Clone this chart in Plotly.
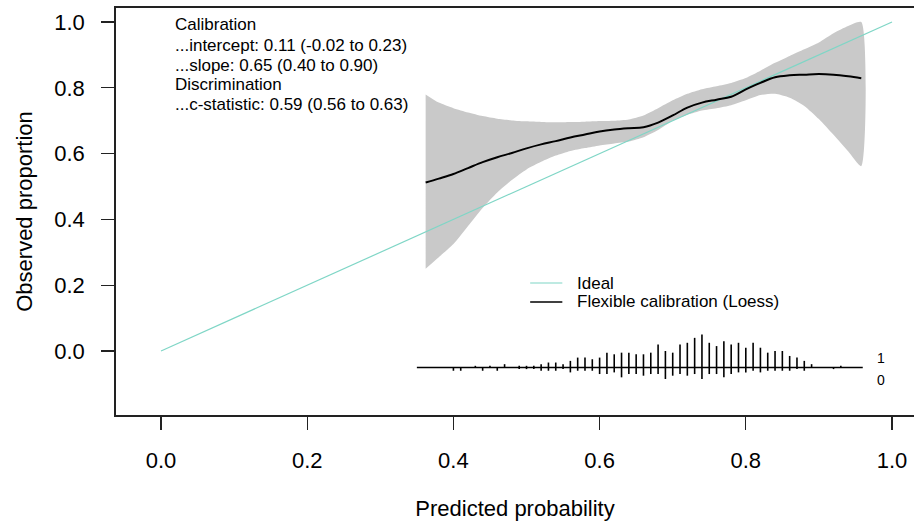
import plotly.graph_objects as go

# ---------------- data ----------------
pred_grid = [0.362, 0.38, 0.40, 0.42, 0.44, 0.46, 0.48, 0.50, 0.52, 0.54, 0.56, 0.58, 0.60,
             0.62, 0.64, 0.66, 0.68, 0.70, 0.72, 0.74, 0.76, 0.78, 0.80, 0.82, 0.84, 0.86,
             0.88, 0.90, 0.92, 0.94, 0.958]
loess_obs = [0.512, 0.524, 0.538, 0.556, 0.574, 0.589, 0.602, 0.616, 0.628, 0.638, 0.649, 0.658, 0.667,
             0.673, 0.677, 0.680, 0.694, 0.716, 0.740, 0.755, 0.764, 0.773, 0.795, 0.815, 0.832, 0.838,
             0.840, 0.842, 0.840, 0.835, 0.829]
ci_upper = [0.780, 0.755, 0.738, 0.725, 0.714, 0.706, 0.701, 0.698, 0.696, 0.695, 0.696, 0.697, 0.699,
            0.700, 0.704, 0.716, 0.738, 0.762, 0.782, 0.796, 0.805, 0.815, 0.830, 0.852, 0.876, 0.897,
            0.917, 0.938, 0.966, 0.988, 1.000]
ci_lower = [0.250, 0.285, 0.325, 0.380, 0.435, 0.482, 0.520, 0.552, 0.575, 0.594, 0.608, 0.617, 0.625,
            0.631, 0.637, 0.650, 0.672, 0.700, 0.718, 0.731, 0.738, 0.747, 0.762, 0.778, 0.782, 0.770,
            0.745, 0.705, 0.657, 0.607, 0.562]

ideal_x = [0.0, 1.0]
ideal_y = [0.0, 1.0]

bin_pos = [0.40, 0.41, 0.42, 0.43, 0.44, 0.45, 0.46, 0.47, 0.48, 0.49, 0.50, 0.51, 0.52, 0.53,
           0.54, 0.55, 0.56, 0.57, 0.58, 0.59, 0.60, 0.61, 0.62, 0.63, 0.64, 0.65, 0.66, 0.67,
           0.68, 0.69, 0.70, 0.71, 0.72, 0.73, 0.74, 0.75, 0.76, 0.77, 0.78, 0.79, 0.80, 0.81,
           0.82, 0.83, 0.84, 0.85, 0.86, 0.87, 0.88, 0.89, 0.90, 0.91, 0.92, 0.93]
n_events = [0, 0, 0, 1, 0, 1, 0, 2, 0, 1, 1, 1, 2, 3,
            3, 2, 4, 6, 6, 5, 6, 9, 8, 9, 9, 8, 8, 9,
            14, 10, 9, 14, 15, 18, 20, 15, 13, 16, 14, 15, 12, 15,
            12, 9, 10, 10, 7, 6, 4, 2, 0, 0, 0, 1]
n_nonevents = [2, 2, 0, 0, 2, 0, 2, 0, 0, 1, 1, 1, 2, 2,
               2, 1, 3, 2, 2, 2, 4, 4, 3, 6, 4, 4, 5, 4,
               4, 7, 5, 4, 5, 4, 7, 4, 4, 6, 4, 3, 3, 2,
               3, 2, 2, 2, 2, 1, 2, 0, 0, 0, 1, 0]
spike_base = -0.05
spike_max = 0.10
baseline_x = [0.35, 0.96]

x_tickvals = [0.0, 0.2, 0.4, 0.6, 0.8, 1.0]
x_ticktext = ["0.0", "0.2", "0.4", "0.6", "0.8", "1.0"]
y_tickvals = [0.0, 0.2, 0.4, 0.6, 0.8, 1.0]
y_ticktext = ["0.0", "0.2", "0.4", "0.6", "0.8", "1.0"]

stats_lines = ["Calibration",
               "...intercept: 0.11 (-0.02 to 0.23)",
               "...slope: 0.65 (0.40 to 0.90)",
               "Discrimination",
               "...c-statistic: 0.59 (0.56 to 0.63)"]
legend_labels = ["Ideal", "Flexible calibration (Loess)"]
spike_labels = ["1", "0"]

# ---------------- style ----------------
FONT = "Liberation Sans, Arial, Helvetica, sans-serif"
IDEAL_COL = "#7fd6c6"
BAND_COL = "#c9c9c9"
AX_COL = "#222222"

fig = go.Figure()

# confidence band
fig.add_trace(go.Scatter(
    x=pred_grid + pred_grid[::-1],
    y=ci_upper + ci_lower[::-1],
    fill="toself", fillcolor=BAND_COL, line=dict(width=0, shape="spline", smoothing=0.6),
    mode="lines", hoverinfo="skip", showlegend=False))

# ideal line
fig.add_trace(go.Scatter(x=ideal_x, y=ideal_y, mode="lines",
                         line=dict(color=IDEAL_COL, width=1.2),
                         name=legend_labels[0], showlegend=False))

# loess curve
fig.add_trace(go.Scatter(x=pred_grid, y=loess_obs, mode="lines",
                         line=dict(color="black", width=2, shape="spline"),
                         name=legend_labels[1], showlegend=False))

# spike histogram
maxf = max(max(n_events), max(n_nonevents))
sx, sy = [baseline_x[0], baseline_x[1], None], [spike_base, spike_base, None]
for b, f1, f0 in zip(bin_pos, n_events, n_nonevents):
    if f1 > 0:
        sx += [b, b, None]
        sy += [spike_base, spike_base + spike_max * f1 / maxf, None]
    if f0 > 0:
        sx += [b, b, None]
        sy += [spike_base, spike_base - spike_max * f0 / maxf, None]
fig.add_trace(go.Scatter(x=sx, y=sy, mode="lines", line=dict(color="black", width=1.6),
                         hoverinfo="skip", showlegend=False))

annotations = []
# statistics text
stat_y = [0.991, 0.930, 0.869, 0.809, 0.748]
for t, yy in zip(stats_lines, stat_y):
    annotations.append(dict(x=0.017, y=yy, xref="x", yref="y", text=t, showarrow=False,
                            xanchor="left", yanchor="middle",
                            font=dict(family=FONT, size=17, color="black")))
# manual legend
leg_y = [0.2067, 0.149]
leg_cols = [IDEAL_COL, "black"]
leg_w = [1.2, 1.6]
shapes = []
for lab, yy, c, w in zip(legend_labels, leg_y, leg_cols, leg_w):
    shapes.append(dict(type="line", xref="x", yref="y", x0=0.505, x1=0.549, y0=yy, y1=yy,
                       line=dict(color=c, width=w)))
    annotations.append(dict(x=0.567, y=yy, xref="x", yref="y", text=lab, showarrow=False,
                            xanchor="left", yanchor="middle",
                            font=dict(family=FONT, size=17, color="black")))
# spike labels
for lab, yy in zip(spike_labels, [-0.021, -0.088]):
    annotations.append(dict(x=0.985, y=yy, xref="x", yref="y", text=lab, showarrow=False,
                            xanchor="center", yanchor="middle",
                            font=dict(family=FONT, size=14, color="black")))

fig.update_layout(
    width=914, height=526,
    margin=dict(l=116, r=0, t=8, b=111),
    paper_bgcolor="white", plot_bgcolor="white",
    font=dict(family=FONT, color="black"),
    showlegend=False,
    annotations=annotations, shapes=shapes,
    xaxis=dict(range=[-0.0616, 1.0301], tickvals=x_tickvals, ticktext=x_ticktext,
               ticks="outside", ticklen=13, tickwidth=1.3, tickcolor=AX_COL,
               showline=True, mirror=True, linecolor=AX_COL, linewidth=1.8,
               showgrid=False, zeroline=False, ticklabelstandoff=12,
               tickfont=dict(family=FONT, size=22, color="black"),
               title=dict(text="Predicted probability", standoff=28,
                          font=dict(family=FONT, size=22, color="black"))),
    yaxis=dict(range=[-0.1945, 1.0426], tickvals=y_tickvals, ticktext=y_ticktext,
               ticks="outside", ticklen=13, tickwidth=1.3, tickcolor=AX_COL,
               showline=True, mirror=False, linecolor=AX_COL, linewidth=1.8,
               showgrid=False, zeroline=False, ticklabelstandoff=12,
               tickfont=dict(family=FONT, size=22, color="black"),
               title=dict(text="Observed proportion", standoff=15,
                          font=dict(family=FONT, size=22, color="black"))),
)

fig.write_html("out.html", config={"displayModeBar": False, "staticPlot": True},
               post_script="document.body.style.margin='0px';document.body.style.overflow='hidden';")
